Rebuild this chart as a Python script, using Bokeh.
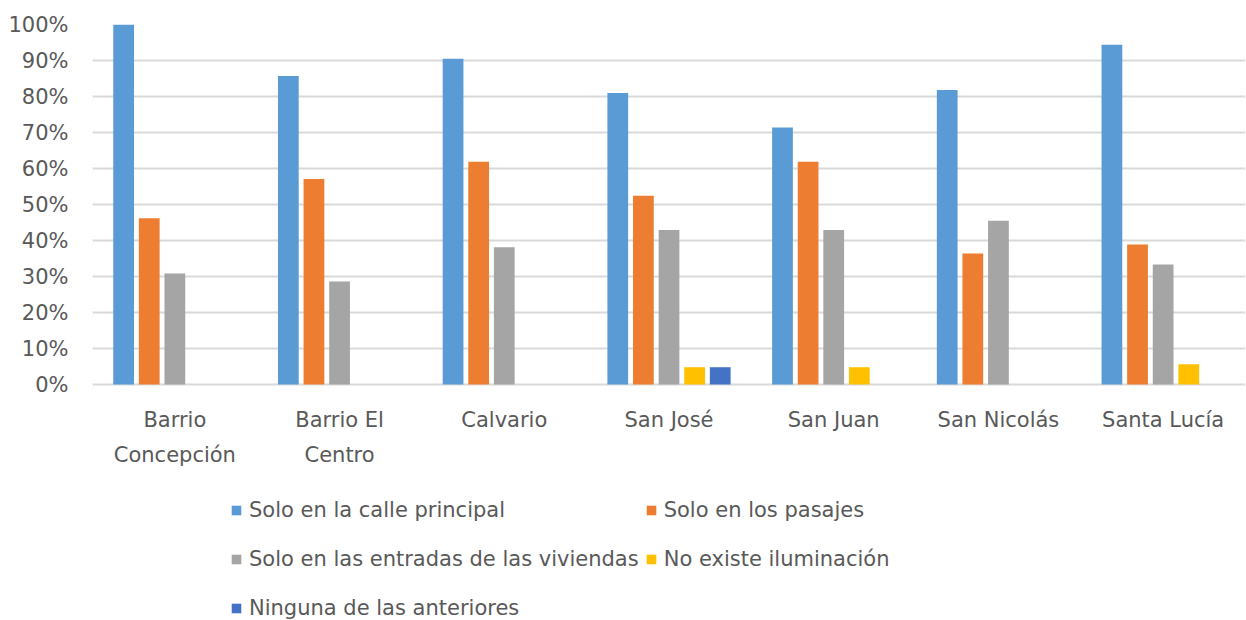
from bokeh.plotting import figure
from bokeh.models import (ColumnDataSource, FixedTicker, LinearAxis, NumeralTickFormatter,
                          Legend, LegendItem, Range1d)
from bokeh.core.properties import value
from bokeh.transform import dodge
from bokeh.embed import file_html
from bokeh.resources import INLINE

categories = ["Barrio Concepción", "Barrio El Centro", "Calvario", "San José",
              "San Juan", "San Nicolás", "Santa Lucía"]
label_line1 = ["Barrio", "Barrio El", "Calvario", "San José", "San Juan", "San Nicolás", "Santa Lucía"]
label_line2 = ["Concepción", "Centro", "", "", "", "", ""]

series_names = ["Solo en la calle principal", "Solo en los pasajes",
                "Solo en las entradas de las viviendas", "No existe iluminación",
                "Ninguna de las anteriores"]
calle_principal = [1.000, 0.857, 0.905, 0.810, 0.714, 0.818, 0.944]
pasajes = [0.462, 0.571, 0.619, 0.524, 0.619, 0.364, 0.389]
entradas = [0.308, 0.286, 0.381, 0.429, 0.429, 0.455, 0.333]
no_existe = [0.0, 0.0, 0.0, 0.048, 0.048, 0.0, 0.056]
ninguna = [0.0, 0.0, 0.0, 0.048, 0.0, 0.0, 0.0]

colors = ["#5B9BD5", "#ED7D31", "#A5A5A5", "#FFC000", "#4472C4"]
y_ticks = [i / 10 for i in range(11)]

FONT = "DejaVu Sans"
TXT = "#595959"

xs = list(range(len(categories)))
src = ColumnDataSource(dict(x=xs, s0=calle_principal, s1=pasajes,
                            s2=entradas, s3=no_existe, s4=ninguna))

# frame spans the whole canvas height below the 0% line so the legend and
# category labels can live inside it; 1.0 of value = 360 px
BOTTOM = -236.0 / 360.0
p = figure(width=1246, height=620, output_backend="svg", toolbar_location=None,
           x_range=Range1d(-0.5, 6.5), y_range=Range1d(BOTTOM, 1),
           min_border_left=92, min_border_right=1, min_border_top=24, min_border_bottom=0,
           x_axis_location=None, y_axis_location=None)
p.outline_line_color = None
p.xgrid.grid_line_color = None

yaxis = LinearAxis(ticker=FixedTicker(ticks=y_ticks), formatter=NumeralTickFormatter(format="0%"))
yaxis.axis_line_color = None
yaxis.major_tick_line_color = None
yaxis.minor_tick_line_color = None
yaxis.major_tick_out = 0
yaxis.major_tick_in = 0
yaxis.major_label_standoff = 24
yaxis.major_label_text_font = FONT
yaxis.major_label_text_font_size = "21px"
yaxis.major_label_text_color = TXT
p.add_layout(yaxis, "left")

p.ygrid.ticker = FixedTicker(ticks=y_ticks)
p.ygrid.grid_line_color = "#D9D9D9"
p.ygrid.grid_line_width = 2

lab_src = ColumnDataSource(dict(x=xs, l1=label_line1, l2=label_line2))
for col, yy in (("l1", -35.0 / 360.0), ("l2", -70.0 / 360.0)):
    p.text(x="x", y=yy, text=col, source=lab_src, text_align="center",
           text_baseline="middle", text_font=value(FONT), text_font_size="21px",
           text_color=TXT)

offsets = [-0.311, -0.1555, 0.0, 0.1555, 0.311]
renderers = []
for k in range(5):
    r = p.vbar(x=dodge("x", offsets[k], range=p.x_range), top="s%d" % k, width=0.126,
               source=src, fill_color=colors[k], line_color=None)
    renderers.append(r)

# Bokeh fills legend columns first; order items so rows read left-to-right
order = [0, 2, 4, 1, 3]
items = [LegendItem(label=series_names[k], renderers=[renderers[k]]) for k in order]

legend = Legend(items=items, ncols=2, location=(138, -9), orientation="vertical",
                padding=0, margin=0, border_line_color=None, background_fill_alpha=0,
                glyph_width=12, glyph_height=12, label_height=43, spacing=6,
                label_standoff=7, label_text_font=FONT, label_text_font_size="21px",
                label_text_color=TXT)
p.add_layout(legend, "center")

open("out.html", "w").write(file_html(p, INLINE))
